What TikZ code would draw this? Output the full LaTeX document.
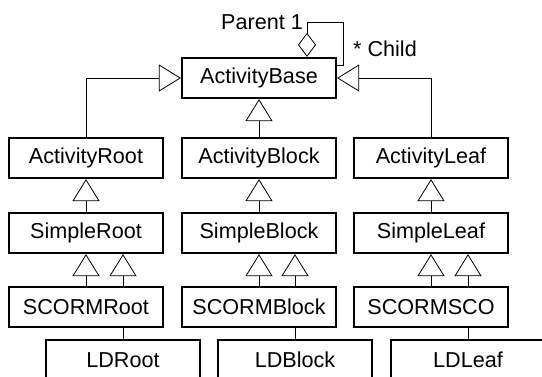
\documentclass[tikz,border=0pt]{standalone}
\usepackage{fontspec}
\setmainfont{Liberation Sans}
\usepackage{tikz}
\usetikzlibrary{arrows.meta,backgrounds}

\begin{document}
\begin{tikzpicture}[x=0.5pt,y=-0.5pt,line width=1.1pt,
  font=\fontsize{10.8pt}{12pt}\selectfont,
  cls/.style={draw,fill=white,inner sep=0pt,minimum width=77pt,minimum height=20pt},
  gen/.style={-{Triangle[open,length=11pt,width=13.5pt]}},
  agg/.style={{Diamond[open,length=12pt,width=9pt]}-}]
\useasboundingbox (0,0) rectangle (542,376);
\node (base) at (259,78) [cls] {ActivityBase};
\node (aroot) at (86,158) [cls] {ActivityRoot};
\node (ablock) at (259,158) [cls] {ActivityBlock};
\node (aleaf) at (431,158) [cls] {ActivityLeaf};
\node (sroot) at (86,233) [cls] {SimpleRoot};
\node (sblock) at (259,233) [cls] {SimpleBlock};
\node (sleaf) at (431,233) [cls] {SimpleLeaf};
\node (scroot) at (86,307) [cls] {SCORMRoot};
\node (scblock) at (259,307) [cls] {SCORMBlock};
\node (scsco) at (431,307) [cls] {SCORMSCO};
\node (ldroot) at (123,360) [cls] {LDRoot};
\node (ldblock) at (295,360) [cls] {LDBlock};
\node (ldleaf) at (468,360) [cls] {LDLeaf};
\node (parent) at (262,22.5) {Parent 1};
\node (child) at (385,48.5) {* Child};
\begin{scope}[on background layer]
\draw[agg] ([xshift=24pt]base.north) -- ++(0,-35) -| ([xshift=3pt,yshift=6.5pt]base.east) -- ([yshift=6.5pt]base.east);
\draw[gen] (aroot.north) |- (base.west);
\draw[gen] (ablock.north) -- (base.south);
\draw[gen] (aleaf.north) |- (base.east);
\draw[gen] (sroot) -- (aroot);
\draw[gen] (sblock) -- (ablock);
\draw[gen] (sleaf) -- (aleaf);
\draw[gen] (scroot) -- (sroot);
\draw[gen] (scblock) -- (sblock);
\draw[gen] (scsco) -- (sleaf);
\draw[gen] (ldroot.north) -- (ldroot.north |- sroot.south);
\draw[gen] (ldblock.north) -- (ldblock.north |- sblock.south);
\draw[gen] (ldleaf.north) -- (ldleaf.north |- sleaf.south);
\end{scope}
\end{tikzpicture}
\end{document}
